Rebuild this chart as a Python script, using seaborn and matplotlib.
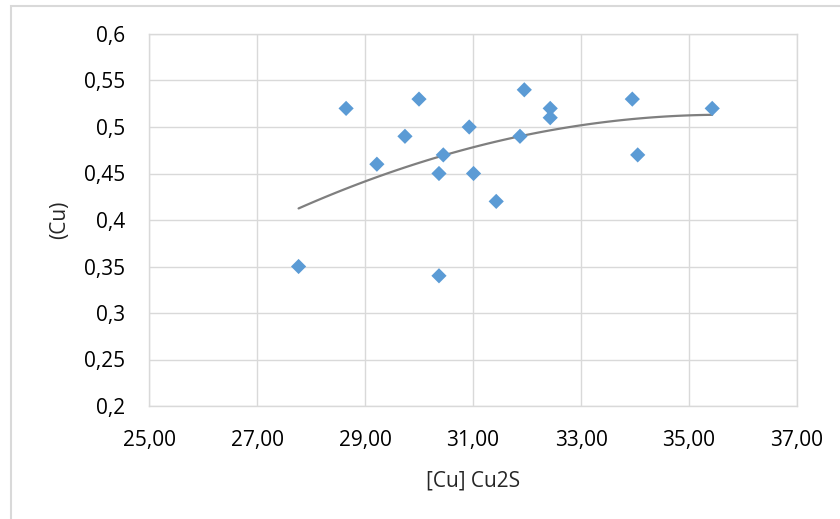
import numpy as np
import pandas as pd
import matplotlib
matplotlib.use("Agg")
import matplotlib.pyplot as plt
import seaborn as sns
from matplotlib.patches import Rectangle

# valeurs
cu_cu2s = [27.77, 28.65, 29.22, 29.74, 30.00, 30.37, 30.37, 30.45, 30.93,
           31.01, 31.43, 31.87, 31.95, 32.43, 32.43, 33.95, 34.05, 35.43]
cu = [0.35, 0.52, 0.46, 0.49, 0.53, 0.45, 0.34, 0.47, 0.50,
      0.45, 0.42, 0.49, 0.54, 0.52, 0.51, 0.53, 0.47, 0.52]

x_ticks = [25, 27, 29, 31, 33, 35, 37]
y_ticks = [0.2, 0.25, 0.3, 0.35, 0.4, 0.45, 0.5, 0.55, 0.6]

df = pd.DataFrame({"x": cu_cu2s, "y": cu})

sns.set_style("white")
plt.rcParams["font.family"] = ["Open Sans", "DejaVu Sans"]

fig = plt.figure(figsize=(8.4, 5.19), dpi=100)
ax = fig.add_axes([149 / 840, 1 - 406 / 519, 648 / 840, 372 / 519])

# cadre du graphique
fig.patches.append(Rectangle((11 / 840, -0.05), 1.2, 1 - 6 / 519 + 0.05,
                             transform=fig.transFigure, fill=False,
                             edgecolor="#d9d9d9", linewidth=1.5))

# courbe de tendance polynomiale (ordre 2)
coef = np.polyfit(df["x"], df["y"], 2)
xs = np.linspace(df["x"].min(), df["x"].max(), 100)
ax.plot(xs, np.polyval(coef, xs), color="#7f7f7f", linewidth=1.6, zorder=2)

sns.scatterplot(data=df, x="x", y="y", ax=ax, marker="D", s=60,
                color="#5b9bd5", edgecolor="none", zorder=3)

ax.set_xlim(25, 37)
ax.set_ylim(0.2, 0.6)
ax.set_xticks(x_ticks)
ax.set_yticks(y_ticks)
ax.set_xticklabels([f"{v:.2f}".replace(".", ",") for v in x_ticks])
ax.set_yticklabels([f"{v:g}".replace(".", ",") for v in y_ticks])
ax.grid(True, color="#d9d9d9", linewidth=1)
ax.set_axisbelow(True)
for s in ax.spines.values():
    s.set_color("#d9d9d9")
    s.set_linewidth(1)
ax.tick_params(length=0, labelsize=15, colors="#000000", pad=17)

ax.set_xlabel("[Cu] Cu2S", fontsize=15, labelpad=14)
ax.set_ylabel("(Cu)", fontsize=15, labelpad=10)

fig.savefig("out.png", dpi=100)
